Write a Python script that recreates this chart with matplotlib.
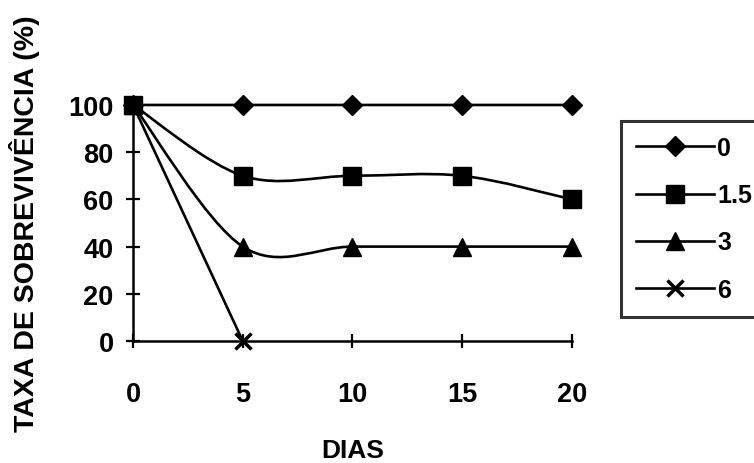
import matplotlib.pyplot as plt
from matplotlib.path import Path
from matplotlib.patches import PathPatch
from matplotlib.lines import Line2D

plt.rcParams['font.family'] = ['Liberation Sans', 'DejaVu Sans']
plt.rcParams['font.weight'] = 'bold'

dias = [0, 5, 10, 15, 20]
doses = ["0", "1.5", "3", "6"]
taxa_0 = [100, 100, 100, 100, 100]
taxa_15 = [100, 70, 70, 70, 60]
taxa_3 = [100, 40, 40, 40, 40]
taxa_6 = [100, 0]
dias_6 = [0, 5]

series = [
    (dias, taxa_0, "D", 10),
    (dias, taxa_15, "s", 13),
    (dias, taxa_3, "^", 13),
    (dias_6, taxa_6, "x", 12),
]


def smooth_path(xs, ys):
    # excel-like smoothed line: cubic bezier through the points
    pts = list(zip(xs, ys))
    verts = [pts[0]]
    codes = [Path.MOVETO]
    n = len(pts)
    for i in range(n - 1):
        p0 = pts[i - 1] if i > 0 else pts[i]
        p1 = pts[i]
        p2 = pts[i + 1]
        p3 = pts[i + 2] if i + 2 < n else pts[i + 1]
        c1 = (p1[0] + (p2[0] - p0[0]) / 6, p1[1] + (p2[1] - p0[1]) / 6)
        c2 = (p2[0] - (p3[0] - p1[0]) / 6, p2[1] - (p3[1] - p1[1]) / 6)
        verts += [c1, c2, p2]
        codes += [Path.CURVE4] * 3
    return Path(verts, codes)


fig = plt.figure(figsize=(7.54, 4.64), dpi=100)
ax = fig.add_axes([0.1764, 0.2629, 0.5822, 0.5087])

handles = []
for (xs, ys, mk, ms), lab in zip(series, doses):
    mew = 2.5 if mk == 'x' else 1
    ax.add_patch(PathPatch(smooth_path(xs, ys), facecolor='none',
                           edgecolor='black', lw=1.9, clip_on=False))
    ax.plot(xs, ys, ls='none', marker=mk, ms=ms, color='black',
            mew=mew, clip_on=False, zorder=3)
    handles.append(Line2D([], [], color='black', lw=1.9, marker=mk, ms=ms,
                          mew=mew))

ax.set_xlim(0, 20)
ax.set_ylim(0, 100)
ax.set_xticks(dias)
ax.set_yticks([0, 20, 40, 60, 80, 100])
for s in ['top', 'right']:
    ax.spines[s].set_visible(False)
for s in ['left', 'bottom']:
    ax.spines[s].set_linewidth(1.8)
ax.tick_params(axis='both', direction='inout', length=10, width=1.6,
               labelsize=19.5)
ax.tick_params(axis='y', pad=9)
ax.tick_params(axis='x', pad=24)

ax.set_xlabel("DIAS", fontsize=19, fontweight='bold', labelpad=22)
ax.set_ylabel("TAXA DE SOBREVIVÊNCIA (%)", fontsize=20.5, fontweight='bold',
              labelpad=20)

leg = fig.legend(handles, doses, loc='upper left',
                 bbox_to_anchor=(621 / 754, 1 - 122 / 464),
                 fontsize=18, frameon=True, fancybox=False, handlelength=3.1,
                 handletextpad=0.15, labelspacing=0.93, borderpad=0.6,
                 borderaxespad=0)
leg.get_frame().set_edgecolor('black')
leg.get_frame().set_linewidth(2.2)

fig.savefig("out.png", dpi=100)
